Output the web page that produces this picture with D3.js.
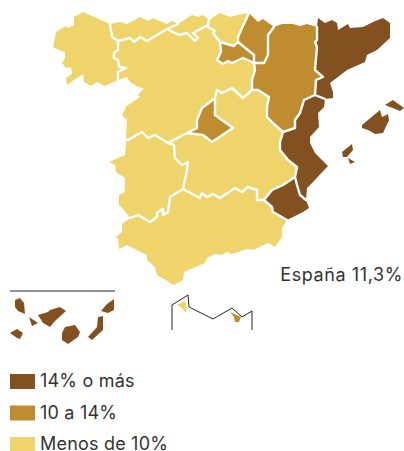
<!DOCTYPE html>
<html lang="es">
<head>
<meta charset="utf-8">
<script src="https://cdn.jsdelivr.net/npm/d3@7"></script>
<style>
  html, body { margin: 0; padding: 0; background: #fff; }
  svg { display: block; }
  text { font-family: "Inter", sans-serif; fill: #333; }
</style>
</head>
<body>
<div id="chart"></div>
<script>
///////////////////////////////////////////
// Data: class of each region, outlines
///////////////////////////////////////////
var classes = ["14% o más", "10 a 14%", "Menos de 10%"];
var classColors = ["#835120", "#bf8c30", "#eed46b"];
var nationalLabel = "España 11,3%";

var galicia = [[83,12],[110,24],[112,37],[118,41],[118,50],[114,53],[114,58],[118,60],[119,67],[126,68],[118,72],[118,80],[105,86],[97,82],[91,86],[84,82],[83,74],[67,85],[66,78],[72,74],[71,67],[66,68],[62,63],[65,58],[65,52],[61,51],[53,47],[56,32],[66,26],[68,28],[74,25],[74,17]];
var asturias = [[110,24],[120,22],[127,24],[140,17],[148,21],[153,18],[167,24],[172,21],[178,24],[167,29],[147,41],[140,37],[134,42],[130,38],[118,41],[112,37]];
var cantabria = [[167,29],[178,24],[192,15],[198,17],[203,15],[209,20],[208,25],[193,33],[198,38],[195,41],[187,33],[179,35]];
var paisVasco = [[208,25],[209,20],[220,13],[230,17],[237,15],[249,13],[242,28],[238,37],[238,42],[234,46],[220,42],[213,33],[215,31],[208,27]];
var rioja = [[220,42],[234,46],[238,42],[254,55],[254,63],[243,58],[232,63],[228,61],[223,64],[217,60],[221,52]];
var navarra = [[249,13],[258,22],[263,19],[274,27],[268,35],[268,55],[264,63],[254,63],[254,55],[238,42],[238,37],[242,28]];
var aragon = [[274,27],[282,24],[293,24],[300,26],[307,24],[317,27],[317,40],[315,42],[317,47],[315,70],[323,77],[316,80],[315,95],[304,100],[300,113],[295,120],[295,128],[283,132],[275,125],[267,117],[267,107],[269,97],[258,90],[252,90],[252,80],[255,70],[254,63],[264,63],[268,55],[268,35]];
var cataluna = [[318,18],[325,23],[332,20],[337,23],[338,30],[348,24],[350,28],[363,27],[373,22],[383,18],[390,23],[390,38],[377,50],[367,55],[365,62],[347,70],[330,83],[333,92],[333,98],[325,99],[315,95],[316,80],[323,77],[315,70],[317,47],[315,42],[317,40],[317,27]];
var valencia = [[315,95],[325,99],[324,107],[318,113],[319,127],[310,137],[310,143],[315,153],[328,166],[313,182],[307,188],[306,200],[300,195],[297,185],[295,177],[297,167],[288,160],[280,150],[280,142],[283,132],[295,128],[295,120],[300,113],[304,100]];
var murcia = [[264,200],[272,190],[283,185],[295,177],[297,185],[300,195],[306,200],[309,208],[303,212],[287,220],[273,212],[272,207]];
var castillaLeon = [[118,41],[130,38],[134,42],[140,37],[147,41],[167,29],[179,35],[187,33],[195,41],[198,38],[193,33],[208,25],[208,27],[215,31],[213,33],[220,42],[221,52],[217,60],[223,64],[228,61],[232,63],[243,58],[254,63],[255,70],[252,80],[252,90],[243,98],[232,88],[222,93],[217,90],[215,98],[210,102],[202,108],[197,120],[197,128],[187,133],[168,143],[155,135],[148,138],[142,132],[128,140],[126,137],[127,120],[122,115],[126,108],[125,107],[140,97],[138,95],[144,88],[138,87],[130,82],[127,77],[118,80],[118,72],[126,68],[119,67],[118,60],[114,58],[114,53],[118,50]];
var madrid = [[215,98],[215,115],[233,128],[212,142],[203,135],[187,133],[197,128],[197,120],[202,108],[210,102]];
var castillaMancha = [[168,143],[187,133],[203,135],[212,142],[233,128],[215,115],[215,98],[217,90],[222,93],[232,88],[243,98],[252,90],[258,90],[269,97],[267,107],[267,117],[275,125],[283,132],[280,142],[280,150],[288,160],[297,167],[295,177],[283,185],[272,190],[264,200],[257,200],[257,190],[248,187],[242,192],[235,188],[220,198],[213,194],[207,197],[202,193],[200,198],[183,189],[187,170],[188,162],[182,165],[175,158],[174,145]];
var extremadura = [[126,141],[128,140],[142,132],[148,138],[155,135],[168,143],[174,145],[175,158],[182,165],[188,162],[187,170],[183,189],[170,197],[168,212],[163,215],[163,209],[157,213],[157,217],[150,222],[138,215],[130,218],[124,210],[119,205],[119,195],[125,192],[125,178],[116,172],[115,165],[109,162],[125,155]];
var andalucia = [[183,189],[200,198],[202,193],[207,197],[213,194],[220,198],[235,188],[242,192],[248,187],[257,190],[257,200],[264,200],[272,207],[273,212],[287,220],[282,228],[282,237],[275,247],[268,243],[253,250],[247,249],[232,254],[227,252],[222,255],[215,254],[207,258],[205,263],[193,268],[184,272],[183,280],[174,285],[157,275],[155,267],[147,260],[147,255],[127,245],[119,249],[118,238],[115,238],[122,232],[122,224],[130,218],[138,215],[150,222],[157,217],[157,213],[163,209],[163,215],[168,212],[170,197]];

var mallorca = [[362,125],[380,110],[382,117],[388,114],[389,120],[383,133],[375,134],[368,130],[362,128]];
var menorca = [[385,105],[393,100],[404,108],[400,111]];
var ibiza = [[342,152],[352,144],[353,150],[347,157],[343,157]];
var formentera = [[348,158],[355,162],[350,164]];

var laPalma = [[15,300],[20,298],[24,303],[25,314],[18,311],[15,307]];
var gomera = [[10,333],[17,329],[23,333],[20,339],[17,338]];
var hierro = [[29,317],[38,323],[32,326]];
var tenerife = [[38,315],[48,312],[50,310],[60,307],[66,311],[55,321],[50,327],[43,323]];
var granCanaria = [[62,333],[65,327],[75,325],[80,332],[78,337],[68,344],[62,340]];
var fuerteventura = [[88,337],[97,327],[98,317],[103,316],[103,330],[92,340]];
var lanzarote = [[101,311],[107,304],[114,299],[114,310],[108,313]];

var ceuta = [[177,305],[185,301],[187,308],[186,313],[182,308]];
var melilla = [[230,312],[241,317],[239,322],[235,322],[234,317]];

var regionShapes = [galicia, asturias, cantabria, paisVasco, rioja, navarra, aragon, cataluna, valencia, murcia, castillaLeon, madrid, castillaMancha, extremadura, andalucia];
var regionClasses = [2, 2, 2, 2, 1, 1, 1, 0, 0, 0, 2, 1, 2, 2, 2];
var islandShapes = [mallorca, menorca, ibiza, formentera, laPalma, gomera, hierro, tenerife, granCanaria, fuerteventura, lanzarote];
var cityShapes = [ceuta, melilla];
var cityClasses = [2, 1];

// inset frames
var canaryRule = [[10,291],[115,291]];
var africaCoast = [[172,330],[172,305],[188,295],[189,307],[213,319],[232,308],[242,317],[252,311],[252,330]];

///////////////////////////////////////////
// Helpers
///////////////////////////////////////////
var width = 404;
var height = 451;

var color = d3.scaleOrdinal().domain([0, 1, 2]).range(classColors);
var geoPath = d3.geoPath(d3.geoIdentity());

function toFeature(ring) {
  return { type: "Polygon", coordinates: [ring.concat([ring[0]])] };
}

function toLine(points) {
  return { type: "LineString", coordinates: points };
}

// edges used by two regions are the white inner borders, the coast stays unstroked
function innerBorders(rings) {
  var seen = new Map();
  var shared = [];
  rings.forEach(function(ring) {
    ring.forEach(function(p, i) {
      var q = ring[(i + 1) % ring.length];
      var key = [p.join(), q.join()].sort().join("|");
      if (seen.has(key)) shared.push([p, q]);
      seen.set(key, true);
    });
  });
  return { type: "MultiLineString", coordinates: shared };
}

///////////////////////////////////////////
// Draw
///////////////////////////////////////////
var svg = d3.select("#chart").append("svg")
  .attr("width", width)
  .attr("height", height)
  .attr("viewBox", "0 0 " + width + " " + height);

svg.append("g").attr("id", "regions")
  .selectAll("path")
  .data(regionShapes)
  .enter().append("path")
  .attr("d", function(d) { return geoPath(toFeature(d)); })
  .attr("fill", function(d, i) { return color(regionClasses[i]); });

svg.append("path")
  .attr("id", "borders")
  .attr("d", geoPath(innerBorders(regionShapes)))
  .attr("fill", "none")
  .attr("stroke", "#fff")
  .attr("stroke-width", 2.4)
  .attr("stroke-linecap", "round")
  .attr("stroke-linejoin", "round");

svg.append("g").attr("id", "islands")
  .selectAll("path")
  .data(islandShapes)
  .enter().append("path")
  .attr("d", function(d) { return geoPath(toFeature(d)); })
  .attr("fill", color(0));

svg.append("g").attr("id", "cities")
  .selectAll("path")
  .data(cityShapes)
  .enter().append("path")
  .attr("d", function(d) { return geoPath(toFeature(d)); })
  .attr("fill", function(d, i) { return color(cityClasses[i]); });

svg.append("g").attr("id", "frames")
  .selectAll("path")
  .data([canaryRule, africaCoast])
  .enter().append("path")
  .attr("d", function(d) { return geoPath(toLine(d)); })
  .attr("fill", "none")
  .attr("stroke", "#222")
  .attr("stroke-width", 1);

svg.append("text")
  .attr("x", 403)
  .attr("y", 281)
  .attr("text-anchor", "end")
  .attr("font-size", 18)
  .attr("letter-spacing", 0.6)
  .text(nationalLabel);

var legendY = d3.scalePoint().domain(classes).range([374, 437]);

var legend = svg.append("g").attr("id", "legend")
  .selectAll("g")
  .data(classes)
  .enter().append("g")
  .attr("transform", function(d) { return "translate(10," + legendY(d) + ")"; });

legend.append("rect")
  .attr("width", 25)
  .attr("height", 15)
  .attr("fill", function(d, i) { return color(i); });

legend.append("text")
  .attr("x", 30)
  .attr("y", 13)
  .attr("font-size", 18)
  .attr("letter-spacing", 0.2)
  .text(function(d) { return d; });
</script>
</body>
</html>
